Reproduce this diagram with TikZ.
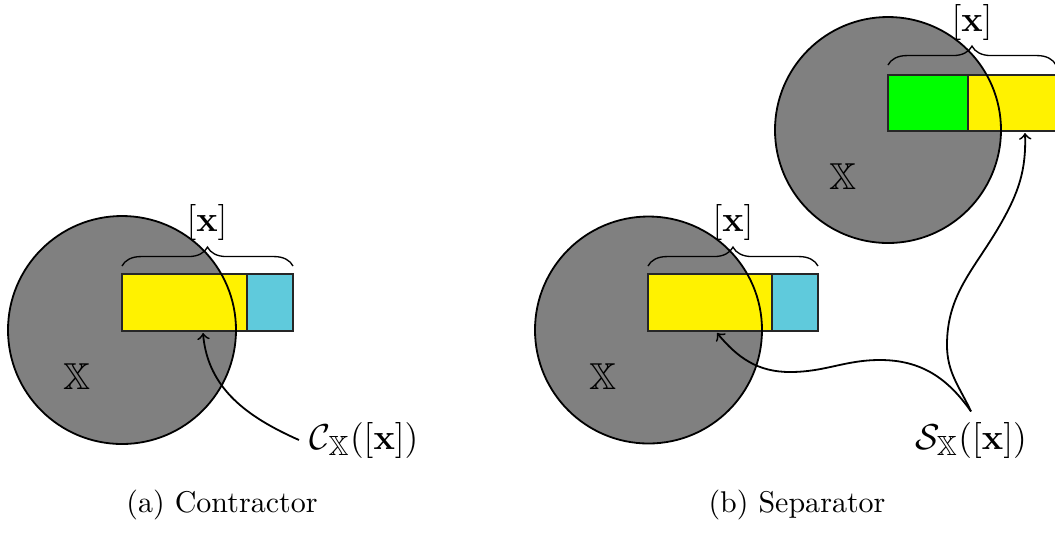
\documentclass[tikz,border=0pt]{standalone}
\usepackage{amssymb}
\usetikzlibrary{decorations.pathreplacing}
\definecolor{boxyellow}{RGB}{255,242,0}
\definecolor{boxcyan}{RGB}{95,202,220}
\definecolor{boxgreen}{RGB}{0,255,0}
\definecolor{setgray}{RGB}{128,128,128}
\begin{document}
\begin{tikzpicture}[x=0.3333pt,y=-0.3333pt,
  setfill/.style={fill=setgray},
  setline/.style={draw=black,line width=0.6pt},
  boxline/.style={draw=black!85,line width=0.6pt},
  bracestyle/.style={draw=black,line width=0.45pt,decorate,decoration={brace,amplitude=6.3pt}},
  boxlabel/.style={font=\fontsize{13}{15}\selectfont},
  setlabel/.style={font=\fontsize{12.5}{15}\selectfont},
  oplabel/.style={font=\fontsize{13.2}{16}\selectfont},
  caplabel/.style={font=\fontsize{10}{12}\selectfont},
  conn/.style={->,line width=0.6pt}]
\useasboundingbox (0,0) rectangle (1055,534);
\clip (0,0) rectangle (1055,534);
% ---------- (a) contractor ----------
\fill[setfill] (122,330) circle[radius=114];
\draw[boxline,fill=boxyellow] (122,274) rectangle (247,331);
\draw[boxline,fill=boxcyan] (247,274) rectangle (293,331);
\draw[setline] (122,330) circle[radius=114];
\draw[bracestyle] (122,266) -- (293,266);
\node[boxlabel] (xa) at (207,222) {$[\mathbf{x}]$};
\node[setlabel] (Xa) at (77,377) {$\mathbb{X}$};
\node[oplabel] (clab) at (364,440) {$\mathcal{C}_{\mathbb{X}}([\mathbf{x}])$};
\coordinate (ctip) at (203,333);
\draw[conn] (clab.west) to[out=156,in=-85] (ctip);
% ---------- (b) separator, lower ----------
\fill[setfill] (648.5,330) circle[radius=113.5];
\draw[boxline,fill=boxyellow] (648,274) rectangle (772,331);
\draw[boxline,fill=boxcyan] (772,274) rectangle (818,331);
\draw[setline] (648.5,330) circle[radius=113.5];
\draw[bracestyle] (648,266) -- (818,266);
\node[boxlabel] (xb) at (733,222) {$[\mathbf{x}]$};
\node[setlabel] (Xb) at (603,377) {$\mathbb{X}$};
% ---------- (b) separator, upper ----------
\fill[setfill] (888,130) circle[radius=113];
\draw[boxline,fill=boxgreen] (888,75) rectangle (968,131);
\draw[boxline,fill=boxyellow] (968,75) rectangle (1060,131);
\draw[setline] (888,130) circle[radius=113];
\draw[bracestyle] (888,65) -- (1056,65);
\node[boxlabel] (xc) at (972,22) {$[\mathbf{x}]$};
\node[setlabel] (Xc) at (843,177) {$\mathbb{X}$};
% ---------- separator label and arrows ----------
\node[oplabel] (slab) at (971,440) {$\mathcal{S}_{\mathbb{X}}([\mathbf{x}])$};
\coordinate (stipa) at (717,333);
\coordinate (stipb) at (1025,133);
\coordinate (sva) at (880,360);
\coordinate (svb) at (790,372);
\coordinate (swa) at (947,345);
\coordinate (swb) at (1000,225);
\draw[conn] (slab.north) to[out=125,in=0] (sva) to[out=180,in=0] (svb) to[out=180,in=-50] (stipa);
\draw[conn] (slab.north) to[out=115,in=-90] (swa) to[out=90,in=-120] (swb) to[out=60,in=-88] (stipb);
% ---------- captions ----------
\node[caplabel] (capa) at (222,505) {(a) Contractor};
\node[caplabel] (capb) at (797,505) {(b) Separator};
\end{tikzpicture}
\end{document}
